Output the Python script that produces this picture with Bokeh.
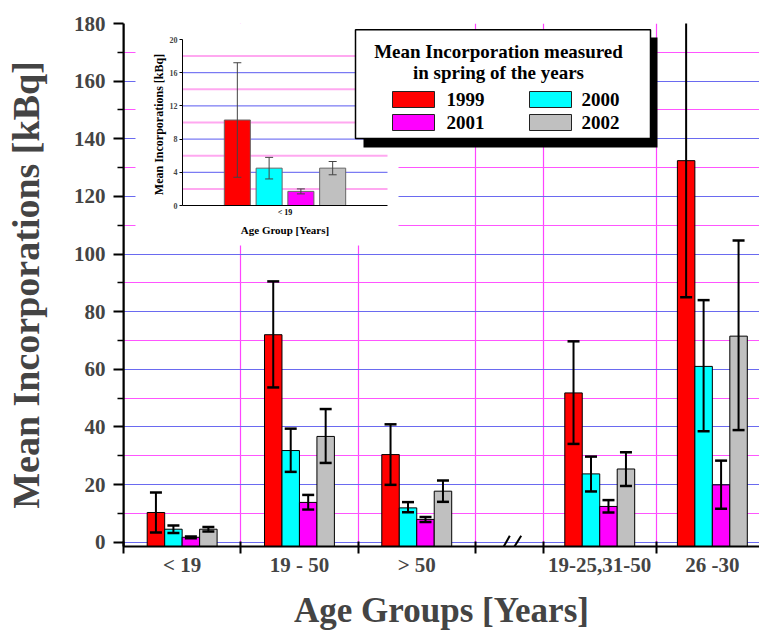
import math
from bokeh.plotting import figure
from bokeh.models import Range1d, LinearAxis, FixedTicker, ColumnDataSource, Arrow, Span
from bokeh.core.properties import value
from bokeh.embed import file_html
from bokeh.resources import INLINE

# ---------------- data ----------------
categories = ["< 19", "19 - 50", "> 50", "19-25,31-50", "26 -30"]
years = ["1999", "2000", "2001", "2002"]

mean_1999 = [10.3, 72.0, 30.4, 51.8, 132.4]
low_1999 = [3.4, 53.7, 19.9, 34.1, 85.0]
high_1999 = [17.2, 90.5, 40.9, 69.7, 182.0]

mean_2000 = [4.5, 31.8, 11.9, 23.7, 61.0]
low_2000 = [3.2, 24.4, 10.4, 17.6, 38.5]
high_2000 = [5.8, 39.4, 13.9, 29.7, 84.0]

mean_2001 = [1.7, 13.8, 7.9, 12.4, 19.9]
low_2001 = [1.4, 11.3, 7.0, 10.3, 11.6]
high_2001 = [2.0, 16.4, 8.7, 14.6, 28.3]

mean_2002 = [4.5, 36.7, 17.7, 25.4, 71.5]
low_2002 = [3.7, 27.5, 14.0, 19.5, 38.9]
high_2002 = [5.3, 46.2, 21.4, 31.2, 104.7]

y_ticks = [0, 20, 40, 60, 80, 100, 120, 140, 160, 180]
y_minor_ticks = [10, 30, 50, 70, 90, 110, 130, 150, 170]

inset_category = ["< 19"]
inset_ticks = [0, 4, 8, 12, 16, 20]
inset_blue_lines = [4, 8, 12, 16]
inset_pink_lines = [2, 6, 10, 14, 18]

legend_title = ["Mean Incorporation measured", "in spring of the years"]

# ---------------- style / layout ----------------
FONT = "Liberation Serif"
colors = ["#ff0000", "#00ffff", "#ff00ff", "#c0c0c0"]
means = [mean_1999, mean_2000, mean_2001, mean_2002]
lows = [low_1999, low_2000, low_2001, low_2002]
highs = [high_1999, high_2000, high_2001, high_2002]

cat_left = [0, 1, 2, 3.58, 4.54]
cat_width = [1, 1, 1, 0.96, 0.96]
centers = [l + w / 2 for l, w in zip(cat_left, cat_width)]
boundaries = sorted(set(cat_left + [l + w for l, w in zip(cat_left, cat_width)]))
bar_w = 0.149

# frame geometry (page pixels)
FL, FT, FB, FR = 123.0, 23.0, 546.0, 759.0
W, H = 759, 632
Y0 = -1.5
PX_PER_X = 117.3
PX_PER_Y = (FB - FT) / (180 - Y0)

p = figure(width=W, height=H, x_range=Range1d(0, (FR - FL) / PX_PER_X), y_range=Range1d(Y0, 180),
           output_backend="svg", toolbar_location=None,
           min_border_left=int(FL), min_border_right=0, min_border_top=int(FT),
           min_border_bottom=int(H - FB))
p.outline_line_color = None
p.background_fill_color = "white"


def px2x(px):
    return (px - FL) / PX_PER_X


def px2y(py):
    return 180 - (py - FT) / PX_PER_Y


# axes
xa = p.xaxis[0]
xa.ticker = FixedTicker(ticks=centers, minor_ticks=boundaries)
xa.major_label_overrides = {c: lab for c, lab in zip(centers, categories)}
xa.axis_line_width = 2
xa.axis_line_color = "black"
xa.major_tick_line_color = None
xa.major_tick_in = 0
xa.major_tick_out = 0
xa.minor_tick_line_color = "black"
xa.minor_tick_line_width = 2
xa.minor_tick_in = 5
xa.minor_tick_out = 7
xa.major_label_text_font = FONT
xa.major_label_text_font_size = "21px"
xa.major_label_text_font_style = "bold"
xa.major_label_standoff = -1
xa.axis_label = "Age Groups [Years]"
xa.axis_label_text_font = FONT
xa.axis_label_text_font_size = "35px"
xa.axis_label_text_font_style = "bold"
xa.axis_label_standoff = 11

ya = p.yaxis[0]
ya.ticker = FixedTicker(ticks=y_ticks, minor_ticks=y_minor_ticks)
ya.axis_line_width = 2
ya.axis_line_color = "black"
ya.major_tick_in = 0
ya.major_tick_out = 10
ya.major_tick_line_width = 2
ya.minor_tick_in = 0
ya.minor_tick_out = 6
ya.minor_tick_line_width = 1.5
ya.major_label_text_font = FONT
ya.major_label_text_font_size = "21px"
ya.major_label_text_font_style = "bold"
ya.major_label_standoff = 8
ya.axis_label = "Mean Incorporations [kBq]"
ya.axis_label_text_font = FONT
ya.axis_label_text_font_size = "38px"
ya.axis_label_text_font_style = "bold"
ya.axis_label_standoff = 24

# grids
p.ygrid.grid_line_color = "#6a6af0"
p.ygrid.grid_line_width = 1
p.ygrid.minor_grid_line_color = "#ff55ff"
p.ygrid.minor_grid_line_width = 1
p.xgrid.ticker = FixedTicker(ticks=boundaries[1:])
p.xgrid.grid_line_color = "#ff44ff"
p.xgrid.grid_line_width = 1.2

# main bars
for i in range(4):
    xs = [c + (i - 1.5) * bar_w for c in centers]
    src = ColumnDataSource(dict(x=xs, top=means[i]))
    p.vbar(x="x", top="top", bottom=Y0, width=bar_w, source=src,
           fill_color=colors[i], line_color="black", line_width=1)

# main error bars
for i in range(4):
    xs = [c + (i - 1.5) * bar_w for c in centers]
    src = ColumnDataSource(dict(x=xs, lo=lows[i], hi=highs[i]))
    p.segment(x0="x", y0="lo", x1="x", y1="hi", source=src, line_color="black", line_width=2)
    p.scatter(x="x", y="lo", source=src, marker="dash", size=12, line_color="black", line_width=2.5)
    p.scatter(x="x", y="hi", source=src, marker="dash", size=12, line_color="black", line_width=2.5)

# strong left axis line
p.add_layout(Span(location=0, dimension="height", line_color="black", line_width=2))

# axis break marks
for x0p, x1p in [(496.7, 509.3), (506.7, 520.7)]:
    p.add_layout(Arrow(end=None, x_start=px2x(x0p), y_start=px2y(557.7),
                       x_end=px2x(x1p), y_end=px2y(535.3), line_width=2, line_color="black"))

# ---------------- inset ----------------
# inset ranges: x 0..1 maps to page 182..387, y 0..20 maps to page 205..39
ix_per = 205.0
iy_per = 8.3
ix0 = -(182 - FL) / ix_per
p.extra_x_ranges = {"inset_x": Range1d(ix0, ix0 + (FR - FL) / ix_per)}
iy0 = -(FB - 205) / iy_per
p.extra_y_ranges = {"inset_y": Range1d(iy0, iy0 + (FB - FT) / iy_per)}

p.quad(left=px2x(135), right=px2x(398), bottom=px2y(245), top=182,
       fill_color="white", line_color=None)

p.segment(x0=0, x1=1, y0=inset_pink_lines, y1=inset_pink_lines, line_color="#ffa8f0", line_width=2,
          x_range_name="inset_x", y_range_name="inset_y")
p.segment(x0=0, x1=1, y0=inset_blue_lines, y1=inset_blue_lines, line_color="#5a5af0", line_width=1,
          x_range_name="inset_x", y_range_name="inset_y")

ibar_w = 0.127
istep = 0.155
for i in range(4):
    xi = [0.5 + (i - 1.5) * istep]
    src = ColumnDataSource(dict(x=xi, top=[means[i][0]], lo=[lows[i][0]], hi=[highs[i][0]]))
    p.vbar(x="x", top="top", bottom=0, width=ibar_w, source=src, fill_color=colors[i],
           line_color="#666666", line_width=1, x_range_name="inset_x", y_range_name="inset_y")
    p.segment(x0="x", y0="lo", x1="x", y1="hi", source=src, line_color="#444444", line_width=1,
              x_range_name="inset_x", y_range_name="inset_y")
    for col in ["lo", "hi"]:
        p.scatter(x="x", y=col, source=src, marker="dash", size=8, line_color="#444444", line_width=1,
                  x_range_name="inset_x", y_range_name="inset_y")

iya = LinearAxis(x_range_name="inset_x", y_range_name="inset_y", fixed_location=0, bounds=(0, 20),
                 ticker=FixedTicker(ticks=inset_ticks, minor_ticks=[]))
iya.axis_line_width = 1
iya.major_tick_in = 0
iya.major_tick_out = 3
iya.major_label_text_font = FONT
iya.major_label_text_font_size = "8px"
iya.major_label_text_font_style = "bold"
iya.major_label_standoff = 2
p.add_layout(iya, "left")

# inset x axis (line + category label)
p.segment(x0=[0], x1=[1], y0=[0], y1=[0], line_color="black", line_width=1,
          x_range_name="inset_x", y_range_name="inset_y")
p.text(x=[0.5], y=[-(212 - 205) / iy_per], text=inset_category,
       text_font=value(FONT), text_font_size="8px", text_font_style="bold",
       text_align="center", text_baseline="middle", x_range_name="inset_x", y_range_name="inset_y")
p.text(x=[0.5], y=[-(229 - 205) / iy_per], text=["Age Group [Years]"],
       text_font=value(FONT), text_font_size="11px", text_font_style="bold",
       text_align="center", text_baseline="middle", x_range_name="inset_x", y_range_name="inset_y")
p.text(x=[-(182 - 158) / ix_per], y=[(205 - 124) / iy_per], text=["Mean Incorporations [kBq]"],
       angle=math.pi / 2, text_font=value(FONT), text_font_size="12px", text_font_style="bold",
       text_align="center", text_baseline="middle", x_range_name="inset_x", y_range_name="inset_y")

# ---------------- legend ----------------
p.quad(left=px2x(363), right=px2x(657), top=px2y(37), bottom=px2y(147), fill_color="black", line_color=None)
p.quad(left=px2x(355), right=px2x(650), top=px2y(29.3), bottom=px2y(138), fill_color="white",
       line_color="black", line_width=1.5)
p.text(x=[px2x(498), px2x(498)], y=[px2y(50.5), px2y(71.5)], text=legend_title,
       text_font=value(FONT), text_font_size="19px", text_font_style="bold",
       text_align="center", text_baseline="middle")
sw_x = [(392, 434), (529, 571), (392, 434), (529, 571)]
sw_y = [(91, 107), (91, 107), (114, 130), (114, 130)]
tx = [446, 581, 446, 581]
for i in range(4):
    p.quad(left=px2x(sw_x[i][0]), right=px2x(sw_x[i][1]), top=px2y(sw_y[i][0]), bottom=px2y(sw_y[i][1]),
           fill_color=colors[i], line_color="#222222", line_width=1)
    p.text(x=[px2x(tx[i])], y=[px2y((sw_y[i][0] + sw_y[i][1]) / 2)], text=[years[i]],
           text_font=value(FONT), text_font_size="19px", text_font_style="bold",
           text_align="left", text_baseline="middle")

open("out.html", "w").write(file_html(p, INLINE))
